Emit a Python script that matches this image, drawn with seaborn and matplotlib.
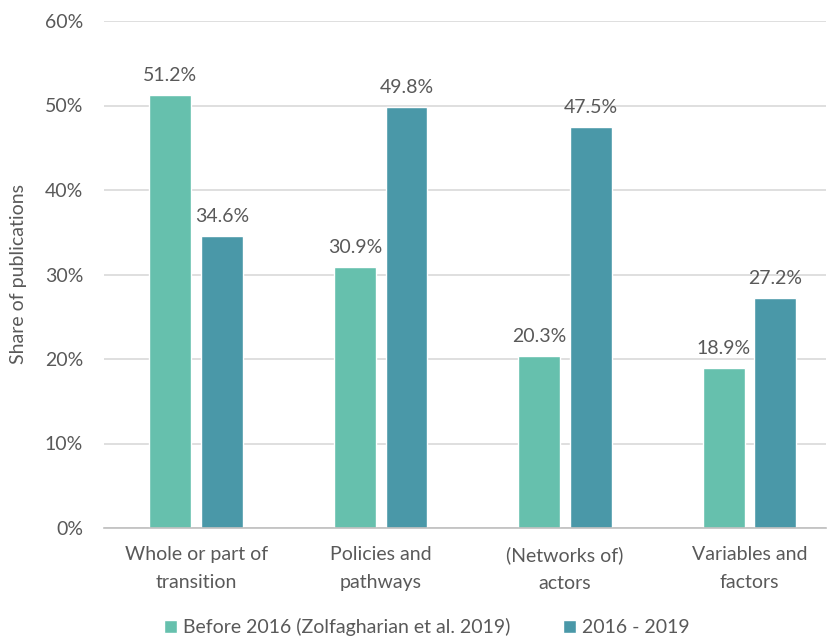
#!/usr/bin/env python3

import pandas as pd
from matplotlib import pyplot as plt
from matplotlib.ticker import PercentFormatter
import seaborn as sns

categories = ["Whole or part of\ntransition", "Policies and\npathways",
              "(Networks of)\nactors", "Variables and\nfactors"]
series = ["Before 2016 (Zolfagharian et al. 2019)", "2016 - 2019"]
before_2016 = [51.2, 30.9, 20.3, 18.9]
since_2016 = [34.6, 49.8, 47.5, 27.2]
colors = ["#66c0ad", "#4a98a8"]
text_color = "#595959"
fs = 14

df = pd.DataFrame({
    "Category": categories * 2,
    "Period": [series[0]] * 4 + [series[1]] * 4,
    "Share": before_2016 + since_2016,
})

sns.set_theme(style="white")
plt.rcParams["font.family"] = ["Lato", "DejaVu Sans"]

fig = plt.figure(figsize=(8.31, 6.41), dpi=100)
ax = fig.add_axes([104 / 831, 113 / 641, 722 / 831, 507 / 641])

sns.barplot(data=df, x="Category", y="Share", hue="Period", palette=colors,
            width=0.56, gap=0.19, saturation=1, ax=ax, legend=True)

for cont in ax.containers:
    for bar in cont:
        h = bar.get_height()
        ax.annotate("%.1f%%" % h, (bar.get_x() + bar.get_width() / 2, h),
                    xytext=(0, 8), textcoords="offset points",
                    ha="center", va="bottom", fontsize=fs, color=text_color)

ax.set_ylim(0, 60)
ax.set_xlim(-0.5, 3.415)
ax.yaxis.set_major_formatter(PercentFormatter(decimals=0))
ax.set_yticks(range(0, 61, 10))
ax.grid(axis="y", color="#d9d9d9", linewidth=1.2)
ax.set_axisbelow(True)
for s in ["top", "right", "left"]:
    ax.spines[s].set_visible(False)
ax.spines["bottom"].set_color("#bfbfbf")
ax.spines["bottom"].set_linewidth(1.2)

ax.tick_params(axis="y", length=0, pad=15, labelsize=fs, labelcolor=text_color)
ax.tick_params(axis="x", length=0, pad=13, labelsize=fs, labelcolor=text_color)
for lab in ax.get_xticklabels():
    lab.set_linespacing(1.8)
ax.set_xlabel("")
ax.set_ylabel("Share of publications", fontsize=fs, color=text_color, labelpad=13)

ax.legend(loc="center", bbox_to_anchor=(0.447, -0.196), ncol=2, frameon=False,
          fontsize=fs, labelcolor=text_color, handlelength=0.7, handleheight=0.7,
          handletextpad=0.3, columnspacing=2.7)

fig.savefig("out.png", dpi=100)
